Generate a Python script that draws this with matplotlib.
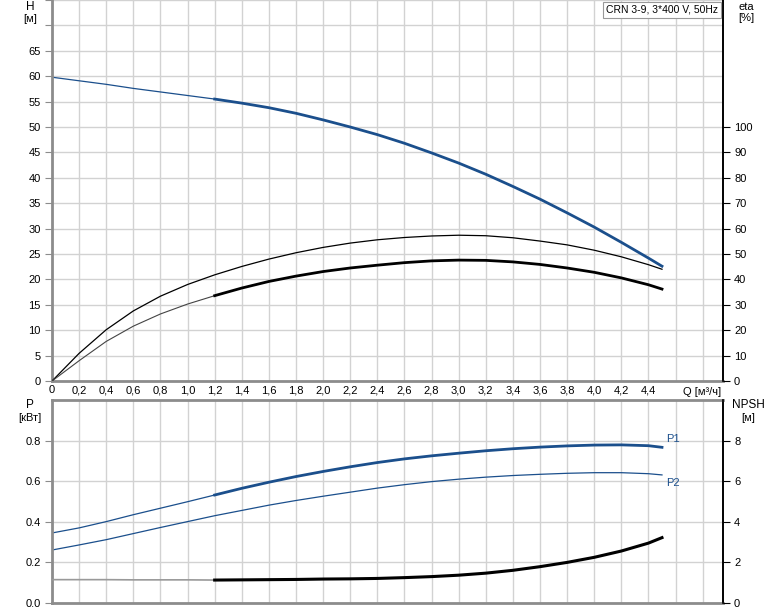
import matplotlib.pyplot as plt
import numpy as np

plt.rcParams['font.family'] = ['Liberation Sans', 'DejaVu Sans']

# --- data ---
q_h = [0, 0.2, 0.4, 0.6, 0.8, 1.0, 1.2, 1.4, 1.6, 1.8, 2.0, 2.2, 2.4, 2.6, 2.8,
       3.0, 3.2, 3.4, 3.6, 3.8, 4.0, 4.2, 4.4, 4.5]
head = [59.8, 59.1, 58.4, 57.6, 56.9, 56.2, 55.5, 54.7, 53.8, 52.7, 51.4, 50.0,
        48.5, 46.8, 44.9, 42.9, 40.7, 38.3, 35.8, 33.1, 30.3, 27.3, 24.2, 22.6]
eta_pump = [0, 10.9, 20.2, 27.6, 33.4, 38.0, 41.8, 45.1, 48.0, 50.5, 52.6, 54.3,
            55.6, 56.5, 57.1, 57.4, 57.2, 56.4, 55.1, 53.6, 51.5, 48.9, 45.8, 44.0]
eta_total = [0, 8.0, 15.6, 21.6, 26.4, 30.3, 33.6, 36.6, 39.2, 41.3, 43.1, 44.5,
             45.6, 46.6, 47.3, 47.6, 47.5, 46.9, 45.9, 44.5, 42.8, 40.6, 37.9, 36.2]
p1 = [0.345, 0.370, 0.401, 0.435, 0.467, 0.499, 0.532, 0.565, 0.595, 0.623, 0.648,
      0.671, 0.692, 0.710, 0.725, 0.738, 0.750, 0.760, 0.768, 0.774, 0.778, 0.779,
      0.775, 0.767]
p2 = [0.261, 0.286, 0.312, 0.342, 0.372, 0.401, 0.430, 0.456, 0.482, 0.505, 0.526,
      0.546, 0.566, 0.583, 0.598, 0.610, 0.620, 0.628, 0.634, 0.639, 0.642, 0.642,
      0.637, 0.631]
npsh = [1.15, 1.15, 1.15, 1.14, 1.14, 1.14, 1.13, 1.14, 1.15, 1.16, 1.18, 1.19,
        1.21, 1.25, 1.30, 1.37, 1.47, 1.61, 1.79, 2.00, 2.25, 2.56, 2.95, 3.22]

x_ticks = np.round(np.arange(0, 4.81, 0.2), 1)
x_labels = ['0'] + [f'{v:.1f}'.replace('.', ',') for v in x_ticks[1:23]] + ['', '']

q_h = np.array(q_h)
split = 6  # index of Q = 1.2, where the duty range starts
blue = '#1b4f8c'
grid_c = '#d2d2d2'
spine_c = '#8c8c8c'

fig = plt.figure(figsize=(7.74, 6.11), dpi=100)
ax = fig.add_axes([0.0672, 0.3764, 0.8669, 0.6236])
ax2 = fig.add_axes([0.0672, 0.0131, 0.8669, 0.3322])


def style(a, ylim, yticks, ylabels):
    a.set_xlim(0, 4.95)
    a.set_ylim(*ylim)
    a.set_xticks(x_ticks)
    a.set_yticks(yticks)
    a.set_yticklabels(ylabels)
    a.grid(True, color=grid_c, lw=1)
    a.set_axisbelow(True)
    a.tick_params(axis='y', length=5, color=spine_c, labelsize=8, pad=3)
    a.tick_params(axis='x', length=0, labelsize=8, pad=3)
    for s in ['left', 'bottom', 'top']:
        a.spines[s].set_color(spine_c)
        a.spines[s].set_linewidth(2)
    a.spines['right'].set_color('black')
    a.spines['right'].set_linewidth(1.2)


# --- top: head and efficiency ---
h_ticks = np.arange(0, 76, 5)
style(ax, (0, 75), h_ticks, [str(v) if v <= 65 else '' for v in h_ticks])
ax.spines['top'].set_visible(False)
ax.set_xticklabels(x_labels)
ax.yaxis.get_major_ticks()[-1].tick1line.set_visible(False)
ax.yaxis.get_major_ticks()[-2].tick1line.set_visible(False)

ax.plot(q_h[:split + 1], head[:split + 1], color=blue, lw=0.9)
ax.plot(q_h[split:], head[split:], color=blue, lw=2.0)

axe = ax.twinx()
axe.set_ylim(0, 150)
axe.set_yticks(np.arange(0, 101, 10))
axe.tick_params(axis='y', length=5, color='black', labelsize=8, pad=3)
for s in ['left', 'bottom', 'top']:
    axe.spines[s].set_visible(False)
axe.spines['right'].set_linewidth(1.2)
axe.plot(q_h, eta_pump, color='black', lw=0.9)
axe.plot(q_h[:split + 1], eta_total[:split + 1], color='#444444', lw=0.8)
axe.plot(q_h[split:], eta_total[split:], color='black', lw=2.0)

fig.text(30 / 774, 1 - 7 / 611, 'H', fontsize=8.5, ha='center', va='center')
fig.text(30 / 774, 1 - 19 / 611, '[м]', fontsize=8, ha='center', va='center')
fig.text(746 / 774, 1 - 7 / 611, 'eta', fontsize=8, ha='center', va='center')
fig.text(746 / 774, 1 - 18 / 611, '[%]', fontsize=8, ha='center', va='center')
fig.text(702 / 774, 1 - 392 / 611, 'Q [м³/ч]', fontsize=8, ha='center', va='center')
fig.text(662 / 774, 1 - 10 / 611, 'CRN 3-9, 3*400 V, 50Hz', fontsize=7.5,
         ha='center', va='center',
         bbox=dict(boxstyle='square,pad=0.25', fc='white', ec='#999999', lw=0.8))

# --- bottom: power and NPSH ---
style(ax2, (0, 1.0), np.arange(0, 0.81, 0.2), [f'{v:.1f}' for v in np.arange(0, 0.81, 0.2)])
ax2.set_xticklabels([])
ax2.plot(q_h[:split + 1], p1[:split + 1], color=blue, lw=0.9)
ax2.plot(q_h[split:], p1[split:], color=blue, lw=2.0)
ax2.plot(q_h, p2, color=blue, lw=0.9)
ax2.text(4.53, 0.783, 'P1', color=blue, fontsize=8, ha='left', va='bottom')
ax2.text(4.53, 0.615, 'P2', color=blue, fontsize=8, ha='left', va='top')

axn = ax2.twinx()
axn.set_ylim(0, 10)
axn.set_yticks(np.arange(0, 9, 2))
axn.tick_params(axis='y', length=5, color='black', labelsize=8, pad=3)
for s in ['left', 'bottom', 'top']:
    axn.spines[s].set_visible(False)
axn.spines['right'].set_linewidth(1.2)
axn.plot(q_h[:split + 1], npsh[:split + 1], color='#999999', lw=1.2)
axn.plot(q_h[split:], npsh[split:], color='black', lw=2.2)

fig.text(30 / 774, 1 - 405 / 611, 'P', fontsize=8.5, ha='center', va='center')
fig.text(30 / 774, 1 - 418 / 611, '[кВт]', fontsize=8, ha='center', va='center')
fig.text(748 / 774, 1 - 405 / 611, 'NPSH', fontsize=8.5, ha='center', va='center')
fig.text(748 / 774, 1 - 418 / 611, '[м]', fontsize=8, ha='center', va='center')

fig.savefig('out.png', dpi=100)
